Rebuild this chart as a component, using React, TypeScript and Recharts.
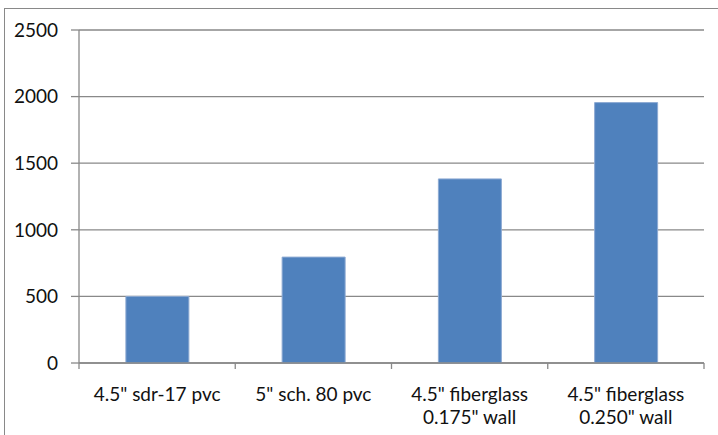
import { BarChart, Bar, XAxis, YAxis, CartesianGrid } from 'recharts';

const categories = ['4.5" sdr-17 pvc', '5" sch. 80 pvc', '4.5" fiberglass\n0.175" wall', '4.5" fiberglass\n0.250" wall'];
const values = [500, 795, 1382, 1955];
const yTicks = [0, 500, 1000, 1500, 2000, 2500];

const chartData = categories.map((name, i) => ({ name, value: values[i] }));

const FONT = 'Lato, "Open Sans", sans-serif';
const LINE = '#898989';

function CategoryTick(props: any) {
  const { x, y, payload, index, visibleTicksCount } = props;
  const half = payload.offset ?? 0;
  const lines = String(payload.value).split('\n');
  const isLast = index === visibleTicksCount - 1;
  return (
    <g>
      <line x1={x - half} x2={x - half} y1={y} y2={y + 6} stroke={LINE} strokeWidth={1.3} />
      {isLast && <line x1={x + half} x2={x + half} y1={y} y2={y + 6} stroke={LINE} strokeWidth={1.3} />}
      <text x={x} y={y + 38} textAnchor="middle" fill="#111" fontSize={19} fontFamily={FONT}>
        {lines.map((l, i) => (
          <tspan key={i} x={x} dy={i === 0 ? 0 : 23}>{l}</tspan>
        ))}
      </text>
    </g>
  );
}

export default function App() {
  return (
    <div style={{ position: 'absolute', left: 0, top: 0, width: 718, height: 435, overflow: 'hidden', background: '#fff' }}>
      <div style={{ position: 'absolute', left: 4, top: 8, width: 800, height: 600, border: `1px solid ${LINE}` }} />
      <div style={{ position: 'absolute', left: 0, top: 0 }}>
        <BarChart
          width={718}
          height={435}
          data={chartData}
          margin={{ top: 30, right: 14, left: 0, bottom: 0 }}
          barCategoryGap="30%"
        >
          <CartesianGrid vertical={false} stroke={LINE} strokeWidth={1.3} />
          <XAxis
            dataKey="name"
            height={72}
            tickSize={0}
            tickMargin={0}
            tickLine={false}
            axisLine={{ stroke: LINE, strokeWidth: 1.3 }}
            interval={0}
            tick={<CategoryTick />}
          />
          <YAxis
            width={79}
            domain={[0, 2500]}
            ticks={yTicks}
            tickSize={8}
            tickMargin={13}
            tickLine={{ stroke: LINE, strokeWidth: 1.3 }}
            axisLine={{ stroke: LINE, strokeWidth: 1.3 }}
            tick={{ fill: '#111', fontSize: 19, fontFamily: FONT }}
          />
          <Bar dataKey="value" fill="#4f81bd" stroke="#8daad3" strokeWidth={1} isAnimationActive={false} />
        </BarChart>
      </div>
    </div>
  );
}
